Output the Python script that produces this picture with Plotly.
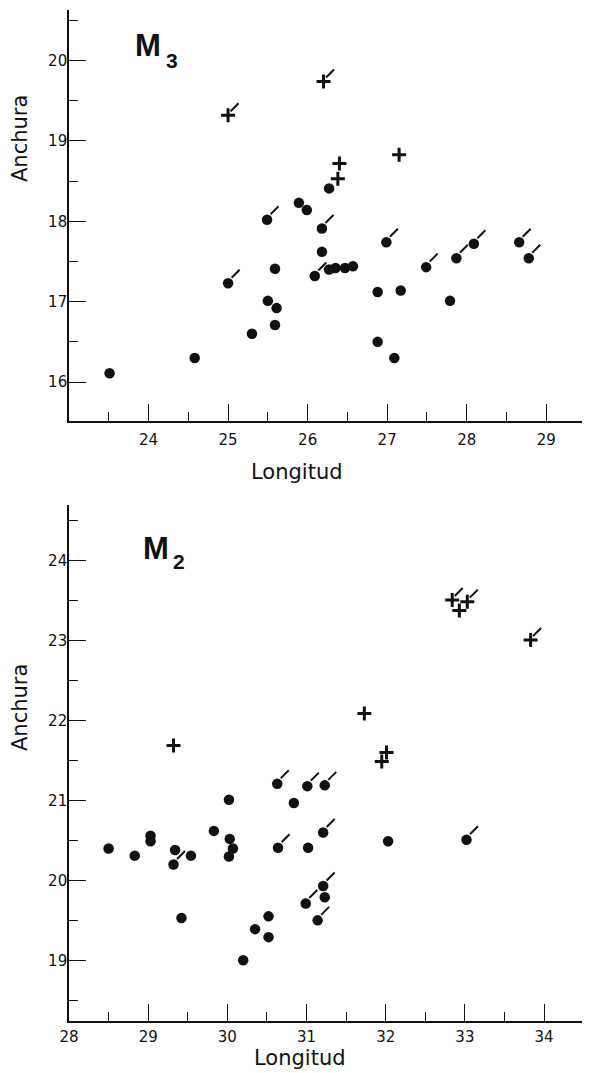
import plotly.graph_objects as go

# ---------------- DATA ----------------
# M3 panel
m3_cross_slash_x = [26.20, 25.00]
m3_cross_slash_y = [19.74, 19.32]
m3_cross_x = [26.40, 27.15, 26.38]
m3_cross_y = [18.72, 18.83, 18.53]
m3_dot_slash_x = [25.49, 26.18, 26.99, 28.09, 28.66, 27.87, 28.78, 26.09, 27.49, 25.00]
m3_dot_slash_y = [18.02, 17.91, 17.74, 17.72, 17.74, 17.54, 17.54, 17.32, 17.43, 17.23]
m3_dot_x = [26.27, 25.89, 25.99, 26.18, 25.59, 26.27, 26.35, 26.47, 26.57, 26.88,
            27.17, 25.50, 25.61, 27.79, 25.59, 25.30, 26.88, 24.58, 27.09, 23.51]
m3_dot_y = [18.41, 18.23, 18.14, 17.62, 17.41, 17.40, 17.42, 17.42, 17.44, 17.12,
            17.14, 17.01, 16.92, 17.01, 16.71, 16.60, 16.50, 16.30, 16.30, 16.11]

# M2 panel
m2_cross_slash_x = [32.84, 33.03, 33.83]
m2_cross_slash_y = [23.51, 23.49, 23.01]
m2_cross_x = [32.93, 31.73, 29.32, 32.01, 31.95]
m2_cross_y = [23.38, 22.09, 21.69, 21.60, 21.49]
m2_dot_slash_x = [30.63, 31.01, 31.23, 31.21, 33.02, 30.64, 29.32, 31.21, 30.99, 31.14]
m2_dot_slash_y = [21.21, 21.18, 21.19, 20.60, 20.51, 20.41, 20.20, 19.93, 19.71, 19.50]
m2_dot_x = [30.02, 30.84, 29.83, 29.03, 29.03, 30.03, 32.03, 28.50, 29.34, 30.07,
            31.02, 28.83, 29.54, 30.02, 31.23, 29.42, 30.52, 30.35, 30.52, 30.20]
m2_dot_y = [21.01, 20.97, 20.62, 20.56, 20.49, 20.52, 20.49, 20.40, 20.38, 20.40,
            20.41, 20.31, 20.31, 20.30, 19.79, 19.53, 19.55, 19.39, 19.29, 19.00]

m3_xticks = [24, 25, 26, 27, 28, 29]
m3_yticks = [16, 17, 18, 19, 20]
m2_xticks = [28, 29, 30, 31, 32, 33, 34]
m2_yticks = [19, 20, 21, 22, 23, 24]

# ---------------- LAYOUT GEOMETRY ----------------
# the page body adds an 8 px margin, so the figure is made smaller and all
# target pixel positions are shifted by that amount
OFF = 8
FIG_W, FIG_H = 590 - OFF, 1073 - OFF
ML, MR, MT = 69 - OFF, 0, 10 - OFF
MB = (OFF + FIG_H) - 1021
PW = FIG_W - ML - MR
PH = FIG_H - MT - MB

top_px = (10, 421)      # y pixel span of top panel (page pixels)
bot_px = (505, 1021)    # y pixel span of bottom panel (page pixels)

def py2paper(py):
    return (FIG_H - MB - (py - OFF)) / PH

def px2paper(px):
    return (px - OFF - ML) / PW

def dom(span):
    a, b = span
    return [max(0.0, py2paper(b)), min(1.0, py2paper(a))]

top_dom = dom(top_px)
bot_dom = dom(bot_px)

m3_xr = [23.0, 29.55]
m3_yr = [15.515, 20.63]
m2_xr = [28.0, 34.58]
m2_yr = [18.24, 24.70]

def offs(xr, yr, span, px, py):
    ux = PW / (xr[1] - xr[0])
    uy = (span[1] - span[0]) / (yr[1] - yr[0])
    return px / ux, py / uy

BLACK = "#111111"
dot_m = dict(symbol="circle", size=10.5, color=BLACK)
cross_m = dict(symbol="cross-thin", size=10, line=dict(width=3, color=BLACK))
slash_m = dict(symbol="line-ne", size=8, line=dict(width=2, color=BLACK))

fig = go.Figure()

def panel(xa, ya, xr, yr, span, dsx, dsy, dx, dy, csx, csy, cx, cy):
    fig.add_trace(go.Scatter(x=dx, y=dy, mode="markers", marker=dot_m, xaxis=xa, yaxis=ya))
    fig.add_trace(go.Scatter(x=dsx, y=dsy, mode="markers", marker=dot_m, xaxis=xa, yaxis=ya))
    fig.add_trace(go.Scatter(x=cx, y=cy, mode="markers", marker=cross_m, xaxis=xa, yaxis=ya))
    fig.add_trace(go.Scatter(x=csx, y=csy, mode="markers", marker=cross_m, xaxis=xa, yaxis=ya))
    ox, oy = offs(xr, yr, span, 7.5, 9.5)
    fig.add_trace(go.Scatter(x=[v + ox for v in dsx], y=[v + oy for v in dsy], mode="markers",
                             marker=slash_m, xaxis=xa, yaxis=ya))
    ox, oy = offs(xr, yr, span, 6.5, 8.0)
    fig.add_trace(go.Scatter(x=[v + ox for v in csx], y=[v + oy for v in csy], mode="markers",
                             marker=slash_m, xaxis=xa, yaxis=ya))

panel("x", "y", m3_xr, m3_yr, top_px, m3_dot_slash_x, m3_dot_slash_y, m3_dot_x, m3_dot_y,
      m3_cross_slash_x, m3_cross_slash_y, m3_cross_x, m3_cross_y)
panel("x2", "y2", m2_xr, m2_yr, bot_px, m2_dot_slash_x, m2_dot_slash_y, m2_dot_x, m2_dot_y,
      m2_cross_slash_x, m2_cross_slash_y, m2_cross_x, m2_cross_y)

FONT = "DejaVu Sans"
tickfont = dict(family=FONT, size=15, color=BLACK)

def axis(rng, vals, domain, anchor, standoff):
    d = dict(range=rng, tickvals=vals, ticktext=[str(v) for v in vals], domain=domain, anchor=anchor,
             showgrid=False, zeroline=False, showline=True, linecolor=BLACK, linewidth=1.6,
             ticks="inside", ticklen=17, tickwidth=1.4, tickcolor=BLACK, tickfont=tickfont,
             ticklabelstandoff=standoff,
             minor=dict(dtick=0.5, tick0=0, ticks="inside", ticklen=9, tickwidth=1.2, tickcolor=BLACK),
             fixedrange=True)
    return d

fig.update_layout(
    width=FIG_W, height=FIG_H,
    margin=dict(l=ML, r=MR, t=MT, b=MB),
    paper_bgcolor="white", plot_bgcolor="white",
    showlegend=False,
    xaxis=axis(m3_xr, m3_xticks, [0, 1], "y", 4),
    yaxis=axis(m3_yr, m3_yticks, top_dom, "x", -3),
    xaxis2=axis(m2_xr, m2_xticks, [0, 1], "y2", 1),
    yaxis2=axis(m2_yr, m2_yticks, bot_dom, "x2", -3),
)

title_font = dict(family=FONT, size=21, color=BLACK)
m_font = dict(family="Liberation Sans", size=31, color=BLACK)
sub_font = dict(family="Liberation Sans", size=21, color=BLACK)
anns = [
    dict(text="Longitud", x=px2paper(297), y=py2paper(472), font=title_font),
    dict(text="Longitud", x=px2paper(300), y=py2paper(1058), font=title_font),
    dict(text="Anchura", x=px2paper(20), y=py2paper(139), font=title_font, textangle=-90),
    dict(text="Anchura", x=px2paper(20), y=py2paper(708), font=title_font, textangle=-90),
    dict(text="<b>M</b>", x=px2paper(147.5), y=py2paper(45), font=m_font),
    dict(text="<b>3</b>", x=px2paper(172), y=py2paper(61), font=sub_font),
    dict(text="<b>M</b>", x=px2paper(155.5), y=py2paper(548), font=m_font),
    dict(text="<b>2</b>", x=px2paper(179), y=py2paper(561), font=sub_font),
]
for a in anns:
    a.setdefault("xanchor", "center")
    a.update(xref="paper", yref="paper", yanchor="middle", showarrow=False)
fig.update_layout(annotations=anns)

fig.write_html("out.html")
